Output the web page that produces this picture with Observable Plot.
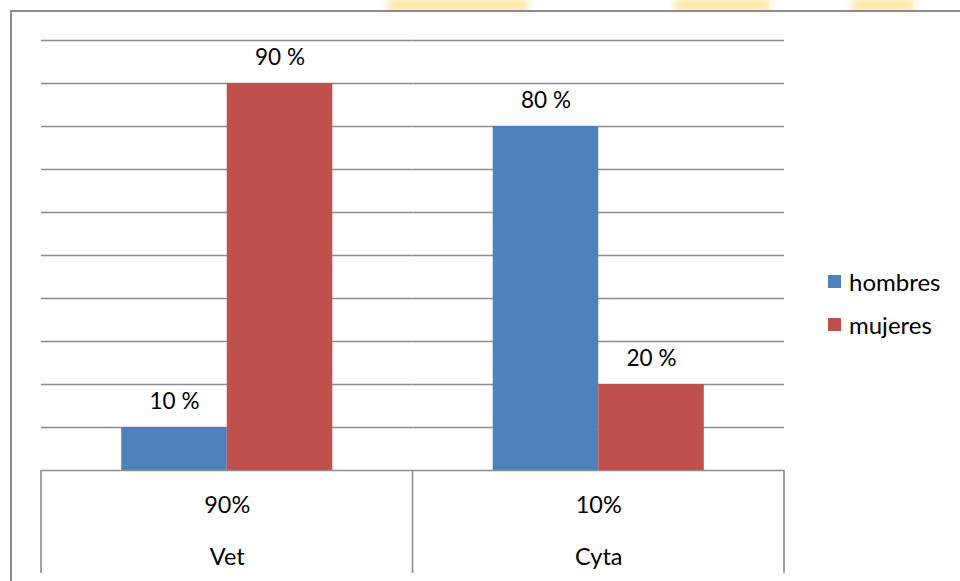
<!DOCTYPE html>
<html>
<head>
<meta charset="utf-8">
<script src="https://cdn.jsdelivr.net/npm/d3@7"></script>
<script src="https://cdn.jsdelivr.net/npm/@observablehq/plot@0.6"></script>
<style>
  html, body { margin: 0; padding: 0; background: #fff; }
  #wrap { position: relative; width: 960px; height: 581px; overflow: hidden; font-family: Lato, "Open Sans", sans-serif; }
  .blob { position: absolute; top: -2px; height: 14px; filter: blur(4px); background: #fde8a6; }
  #frame { position: absolute; left: 10px; top: 10px; width: 1000px; height: 620px; border: 2px solid #8c8c8c; background: #fff; }
  #chart { position: absolute; left: 0; top: 0; }
  #legend { position: absolute; left: 828px; top: 260px; font-size: 24px; color: #000; }
  #legend .row { height: 43px; line-height: 43px; display: flex; align-items: center; }
  #legend .sw { width: 13px; height: 13px; margin-right: 8px; }
</style>
</head>
<body>
<div id="wrap">
  <div class="blob" style="left:388px;width:140px;"></div>
  <div class="blob" style="left:675px;width:95px;"></div>
  <div class="blob" style="left:852px;width:62px;"></div>
  <div id="frame"></div>
  <div id="chart"></div>
  <div id="legend"></div>
</div>
<script>
// ---- data ----
const categories = ["Vet", "Cyta"];
const categoryShares = ["90%", "10%"];
const series = ["hombres", "mujeres"];
const hombres = [10, 80];
const mujeres = [90, 20];
const gridTicks = [0, 10, 20, 30, 40, 50, 60, 70, 80, 90, 100];
const colors = ["#4f81bd", "#c0504d"];

const data = [];
categories.forEach((c, i) => {
  data.push({cat: c, sex: series[0], value: hombres[i]});
  data.push({cat: c, sex: series[1], value: mujeres[i]});
});

const font = "Lato, 'Open Sans', sans-serif";
const plot = Plot.plot({
  width: 960,
  height: 581,
  marginLeft: 41,
  marginRight: 176,
  marginTop: 40,
  marginBottom: 111,
  style: {background: "transparent", fontFamily: font, color: "#000"},
  fx: {domain: categories, padding: 0, label: null, axis: null, round: false},
  x: {domain: series, paddingInner: 0, paddingOuter: 0.76, axis: null, round: false},
  y: {domain: [0, 100], axis: null},
  color: {domain: series, range: colors},
  marks: [
    Plot.ruleY(gridTicks.filter(d => d > 0), {y: d => d, stroke: "#8c8c8c", strokeWidth: 1.6}),
    Plot.barY(data, {fx: "cat", x: "sex", y: "value", fill: "sex"}),
    Plot.ruleY([0], {stroke: "#8c8c8c", strokeWidth: 1.6}),
    Plot.text(data, {fx: "cat", x: "sex", y: "value", text: d => d.value + " %", dy: -26, fontSize: 22.5, fill: "#000"}),
    Plot.axisFx({anchor: "bottom", tickSize: 0, tickPadding: 26, fontSize: 23.5, label: null,
      tickFormat: d => categoryShares[categories.indexOf(d)]}),
    Plot.axisFx({anchor: "bottom", tickSize: 0, tickPadding: 78, fontSize: 23.5, label: null})
  ]
});
document.getElementById("chart").appendChild(plot);

// category table dividers, from the fx band scale
const fx = plot.scale("fx");
const y = plot.scale("y");
const y0 = y.apply(0);
const step = (fx.range[1] - fx.range[0]) / categories.length;
const bounds = d3.range(categories.length + 1).map(i => fx.range[0] + i * step);
d3.select(plot).append("g")
  .selectAll("line").data(bounds).join("line")
  .attr("x1", d => d).attr("x2", d => d)
  .attr("y1", y0).attr("y2", 573)
  .attr("stroke", "#8c8c8c").attr("stroke-width", 1.6);

// legend
const lg = d3.select("#legend");
series.forEach((s, i) => {
  const row = lg.append("div").attr("class", "row");
  row.append("div").attr("class", "sw").style("background", colors[i]);
  row.append("span").text(s);
});
</script>
</body>
</html>
